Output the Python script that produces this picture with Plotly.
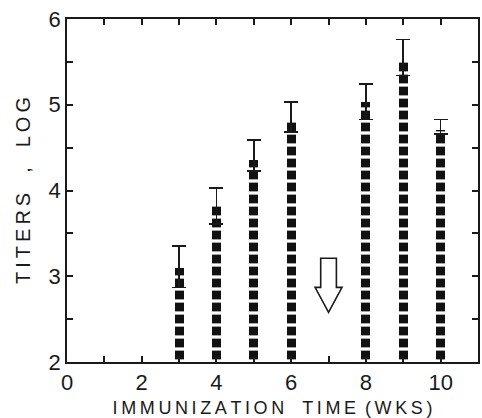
import plotly.graph_objects as go

# Data
weeks = [3, 4, 5, 6, 8, 9, 10]
titer_mean = [3.10, 3.82, 4.36, 4.82, 5.03, 5.50, 4.71]
err_plus = [0.25, 0.21, 0.23, 0.21, 0.21, 0.26, 0.12]
err_minus = [0.23, 0.21, 0.13, 0.14, 0.20, 0.16, 0.05]

x_tickvals = list(range(0, 11))
x_ticktext = [str(v) if v % 2 == 0 else "" for v in x_tickvals]
y_tickvals = [2, 2.5, 3, 3.5, 4, 4.5, 5, 5.5, 6]
y_ticktext = [str(int(v)) if v == int(v) else "" for v in y_tickvals]

boost_week = 7          # hollow arrow marks booster
arrow_top = 3.21
arrow_head_base = 2.87
arrow_tip = 2.58

FONT = "Liberation Sans"
INK = "#1a1a1a"
THIN = "\u2009"
EN = "\u2002"

y_title = THIN.join("TITERS") + EN * 2 + "," + EN * 2 + THIN.join("LOG")
x_title = (THIN.join("IMMUNIZATION") + EN * 2 + THIN.join("TIME") + EN
           + THIN.join("(WKS)"))

fig = go.Figure()
fig.add_trace(go.Bar(
    x=weeks,
    y=titer_mean,
    width=0.24,
    marker=dict(
        color="#111",
        line=dict(width=0),
        pattern=dict(shape="-", fgcolor="white", bgcolor="#111",
                     size=12, solidity=0.27, fillmode="replace"),
    ),
    error_y=dict(type="data", symmetric=False, array=err_plus,
                 arrayminus=err_minus, color=INK, thickness=1.6, width=7),
    showlegend=False,
))

sw, hw = 0.21, 0.36
x0 = boost_week
path = (f"M {x0 - sw},{arrow_top} L {x0 + sw},{arrow_top} L {x0 + sw},{arrow_head_base} "
        f"L {x0 + hw},{arrow_head_base} L {x0},{arrow_tip} L {x0 - hw},{arrow_head_base} "
        f"L {x0 - sw},{arrow_head_base} Z")
fig.add_shape(type="path", path=path, xref="x", yref="y",
              line=dict(color=INK, width=1.6), fillcolor="white")

fig.update_layout(
    width=482, height=418,
    margin=dict(l=67, r=2, t=19, b=56),
    paper_bgcolor="white", plot_bgcolor="white",
    font=dict(family=FONT, color=INK),
    xaxis=dict(
        range=[0, 11], tickvals=x_tickvals, ticktext=x_ticktext,
        ticks="inside", ticklen=6, tickwidth=1.5, tickcolor=INK,
        showline=True, linecolor=INK, linewidth=1.5, mirror="ticks",
        showgrid=False, zeroline=False,
        tickfont=dict(size=22, family=FONT, color=INK),
        title=dict(text=x_title,
                   font=dict(size=18, family=FONT, color=INK), standoff=8),
    ),
    yaxis=dict(
        range=[2, 6], tickvals=y_tickvals, ticktext=y_ticktext,
        ticks="inside", ticklen=6, tickwidth=1.5, tickcolor=INK,
        showline=True, linecolor=INK, linewidth=1.5, mirror="ticks",
        showgrid=False, zeroline=False,
        tickfont=dict(size=22, family=FONT, color=INK),
        title=dict(text=y_title,
                   font=dict(size=20, family=FONT, color=INK), standoff=13),
    ),
    bargap=0,
)

fig.write_html("out.html")
